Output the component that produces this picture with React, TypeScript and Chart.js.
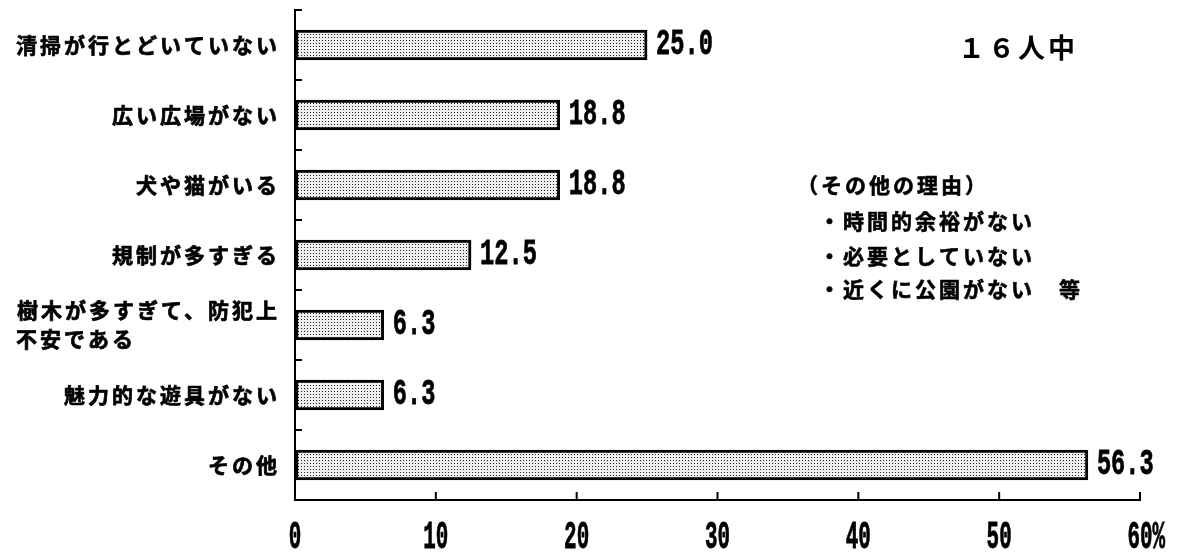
import React, { useEffect, useRef } from "react";
import { Chart, registerables } from "chart.js";

Chart.register(...registerables);

const categories: (string | string[])[] = [
  "清掃が行とどいていない",
  "広い広場がない",
  "犬や猫がいる",
  "規制が多すぎる",
  ["樹木が多すぎて、防犯上", "不安である　　　　　　"],
  "魅力的な遊具がない",
  "その他",
];
const values = [25.0, 18.8, 18.8, 12.5, 6.3, 6.3, 56.3];
const valueLabels = ["25.0", "18.8", "18.8", "12.5", "6.3", "6.3", "56.3"];
const xTicks = [0, 10, 20, 30, 40, 50, 60];
const xUnit = "%";
const noteTitle = "１６人中";
const noteLines = [
  "（その他の理由）",
  "・時間的余裕がない",
  "・必要としていない",
  "・近くに公園がない　等",
];

const JP = "'Noto Sans CJK JP', 'Noto Sans CJK SC', sans-serif";
const MONO = "'Liberation Mono', 'DejaVu Sans Mono', monospace";

function condensed(
  ctx: CanvasRenderingContext2D,
  text: string,
  x: number,
  y: number,
  size: number,
  sx: number,
  align: CanvasTextAlign
) {
  ctx.save();
  ctx.font = `bold ${size}px ${MONO}`;
  ctx.textBaseline = "middle";
  ctx.textAlign = align;
  ctx.translate(x, y);
  ctx.scale(sx, 1);
  ctx.fillText(text, 0, 0);
  ctx.lineWidth = 0.8;
  ctx.strokeStyle = "#000";
  ctx.strokeText(text, 0, 0);
  ctx.restore();
}

function makePattern(ctx: CanvasRenderingContext2D) {
  const c = document.createElement("canvas");
  c.width = 3;
  c.height = 3;
  const p = c.getContext("2d")!;
  p.fillStyle = "#efefef";
  p.fillRect(0, 0, 3, 3);
  p.fillStyle = "#222";
  p.fillRect(1, 1, 1, 1);
  return ctx.createPattern(c, "repeat")!;
}

const decor = {
  id: "decor",
  beforeDraw(chart: any) {
    (chart.ctx as any).letterSpacing = "3px";
  },
  afterDraw(chart: any) {
    const ctx: CanvasRenderingContext2D = chart.ctx;
    const xs = chart.scales.x;
    const ys = chart.scales.y;
    const area = chart.chartArea;
    ctx.save();
    (ctx as any).letterSpacing = "0px";
    ctx.strokeStyle = "#000";
    ctx.fillStyle = "#000";
    ctx.lineWidth = 2;
    const line = (x1: number, y1: number, x2: number, y2: number) => {
      ctx.beginPath();
      ctx.moveTo(x1, y1);
      ctx.lineTo(x2, y2);
      ctx.stroke();
    };
    // category boundary ticks on the y axis
    const step = ys.getPixelForValue(1) - ys.getPixelForValue(0);
    for (let i = 0; i < categories.length; i++) {
      const py = Math.round(ys.getPixelForValue(i) - step / 2);
      line(area.left, py, area.left + 7, py);
    }
    // x ticks (inside) and labels
    xTicks.forEach((v, i) => {
      const px = xs.getPixelForValue(v);
      if (v !== 0) line(px, area.bottom, px, area.bottom - 8);
      const label = String(v);
      if (i === xTicks.length - 1) {
        ctx.save();
        ctx.font = `bold 38px ${MONO}`;
        const w = ctx.measureText(label).width * 0.55;
        ctx.restore();
        condensed(ctx, label + xUnit, px - w / 2, 538, 38, 0.55, "left");
      } else {
        condensed(ctx, label, px, 538, 38, 0.55, "center");
      }
    });
    // value labels
    const meta = chart.getDatasetMeta(0);
    meta.data.forEach((bar: any, i: number) => {
      condensed(ctx, valueLabels[i], bar.x + 9, bar.y, 37, 0.64, "left");
    });
    // notes
    ctx.textBaseline = "middle";
    ctx.textAlign = "left";
    ctx.lineWidth = 0.6;
    ctx.font = `bold 27px ${JP}`;
    (ctx as any).letterSpacing = "3px";
    ctx.fillText(noteTitle, 958, 48);
    ctx.font = `bold 21px ${JP}`;
    (ctx as any).letterSpacing = "3px";
    const noteY = [185, 221, 256, 289];
    const noteX = [797, 819, 819, 819];
    noteLines.forEach((t, i) => {
      ctx.fillText(t, noteX[i], noteY[i]);
      ctx.strokeText(t, noteX[i], noteY[i]);
    });
    ctx.restore();
  },
};

export default function App() {
  const ref = useRef<HTMLCanvasElement>(null);
  useEffect(() => {
    const canvas = ref.current!;
    const ctx = canvas.getContext("2d")!;
    const pattern = makePattern(ctx);
    const chart = new Chart(canvas, {
      type: "bar",
      data: {
        labels: categories,
        datasets: [
          {
            data: values,
            backgroundColor: pattern,
            borderColor: "#000",
            borderWidth: 3,
            borderSkipped: false,
            barThickness: 30,
          },
        ],
      },
      options: {
        indexAxis: "y",
        responsive: true,
        maintainAspectRatio: false,
        animation: false,
        layout: { padding: { top: 10, right: 58, left: 0, bottom: 0 } },
        plugins: { legend: { display: false }, tooltip: { enabled: false } },
        scales: {
          x: {
            min: 0,
            max: 60,
            ticks: { display: false, stepSize: 10 },
            grid: { drawOnChartArea: false, drawTicks: false },
            border: { color: "#000", width: 2 },
            afterFit(s: any) {
              s.height = 58;
              s.paddingLeft = 0;
              s.paddingRight = 0;
            },
          },
          y: {
            ticks: {
              color: "#000",
              autoSkip: false,
              padding: 15,
              textStrokeColor: "#000",
              textStrokeWidth: 0.7,
              font: { family: JP, size: 21, weight: "bold", lineHeight: 1.38 },
            },
            grid: { drawOnChartArea: false, drawTicks: false },
            border: { color: "#000", width: 2 },
            afterFit(s: any) {
              s.width = 295;
              s.paddingTop = 0;
              s.paddingBottom = 0;
            },
          },
        },
      } as any,
      plugins: [decor],
    });
    return () => chart.destroy();
  }, []);
  return (
    <div style={{ position: "fixed", left: 0, top: 0, width: 1198, height: 558, background: "#fff" }}>
      <canvas ref={ref} />
    </div>
  );
}
